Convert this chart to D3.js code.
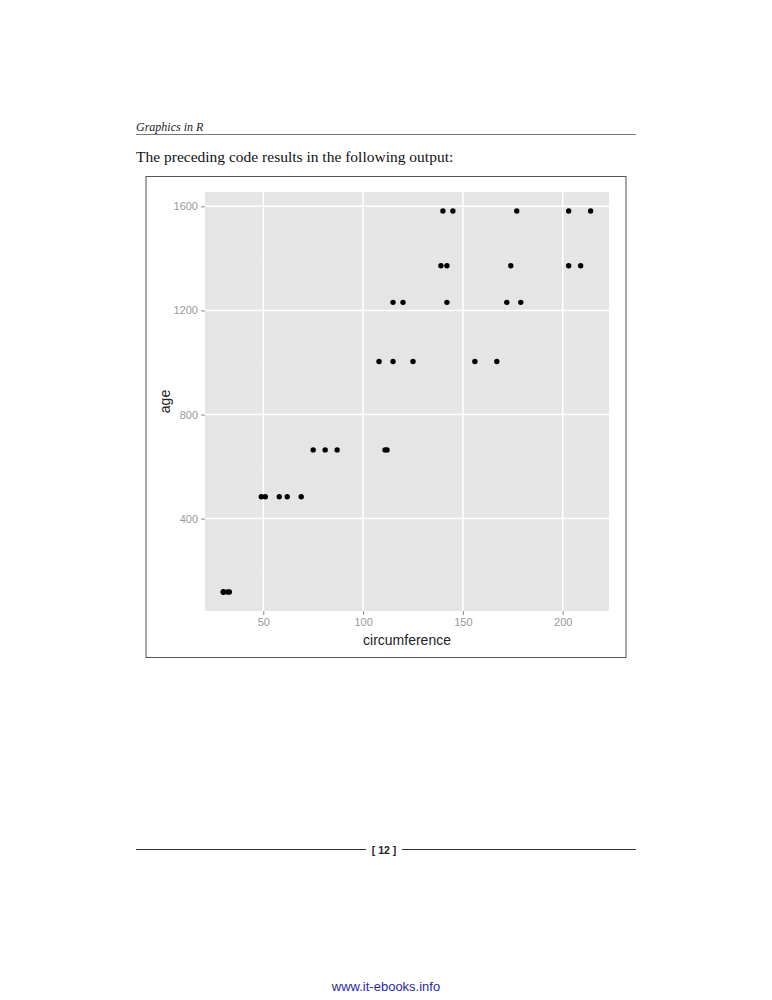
<!DOCTYPE html>
<html>
<head>
<meta charset="utf-8">
<script src="https://cdn.jsdelivr.net/npm/d3@7"></script>
<style>
  body { margin: 0; background: #fff; }
  svg { display: block; }
</style>
</head>
<body>
<svg id="page" width="772" height="1000"></svg>
<script>
// Orange tree data: circumference (mm) against age (days), five trees
var ages = [118, 484, 664, 1004, 1231, 1372, 1582];
var tree1 = [30, 58, 87, 115, 120, 142, 145];
var tree2 = [33, 69, 111, 156, 172, 203, 203];
var tree3 = [30, 51, 75, 108, 115, 139, 140];
var tree4 = [32, 62, 112, 167, 179, 209, 214];
var tree5 = [30, 49, 81, 125, 142, 174, 177];

var xTicks = [50, 100, 150, 200];
var yTicks = [400, 800, 1200, 1600];
var xMinor = [25, 75, 125, 175, 225];
var yMinor = [200, 600, 1000, 1400];

var points = [];
[tree1, tree2, tree3, tree4, tree5].forEach(function(tree) {
    tree.forEach(function(c, i) {
        points.push({circumference: c, age: ages[i]});
    });
});

var svg = d3.select("#page");

// page header
svg.append("text")
    .attr("x", 136).attr("y", 131)
    .style("font-family", "Liberation Serif, serif")
    .style("font-style", "italic")
    .style("font-size", "12px")
    .attr("fill", "#222")
    .text("Graphics in R");
svg.append("line")
    .attr("x1", 136).attr("x2", 636)
    .attr("y1", 134.5).attr("y2", 134.5)
    .attr("stroke", "#777").attr("stroke-width", 1);
svg.append("text")
    .attr("x", 136).attr("y", 162)
    .style("font-family", "Liberation Serif, serif")
    .style("font-size", "15.5px")
    .attr("fill", "#111")
    .text("The preceding code results in the following output:");

// figure frame
svg.append("rect")
    .attr("x", 146).attr("y", 176.5)
    .attr("width", 480).attr("height", 481)
    .attr("fill", "#fff")
    .attr("stroke", "#555").attr("stroke-width", 1);

// panel
var panel = {left: 205, top: 192, right: 609, bottom: 611};

// ggplot style 5% expansion
var xExt = d3.extent(points, function(d) { return d.circumference; });
var yExt = d3.extent(points, function(d) { return d.age; });
var xPad = (xExt[1] - xExt[0]) * 0.05;
var yPad = (yExt[1] - yExt[0]) * 0.05;

var x = d3.scaleLinear()
    .domain([xExt[0] - xPad, xExt[1] + xPad])
    .range([panel.left, panel.right]);
var y = d3.scaleLinear()
    .domain([yExt[0] - yPad, yExt[1] + yPad])
    .range([panel.bottom, panel.top]);

svg.append("rect")
    .attr("x", panel.left).attr("y", panel.top)
    .attr("width", panel.right - panel.left)
    .attr("height", panel.bottom - panel.top)
    .attr("fill", "#e5e5e5");

var grid = svg.append("g");

// minor grid, very faint
grid.selectAll("line.xminor")
    .data(xMinor.filter(function(v) { return x(v) > panel.left && x(v) < panel.right; }))
    .enter().append("line")
    .attr("x1", function(d) { return x(d); })
    .attr("x2", function(d) { return x(d); })
    .attr("y1", panel.top).attr("y2", panel.bottom)
    .attr("stroke", "#ebebeb").attr("stroke-width", 0.6);
grid.selectAll("line.yminor")
    .data(yMinor)
    .enter().append("line")
    .attr("y1", function(d) { return y(d); })
    .attr("y2", function(d) { return y(d); })
    .attr("x1", panel.left).attr("x2", panel.right)
    .attr("stroke", "#ebebeb").attr("stroke-width", 0.6);

// major grid
grid.selectAll("line.xmajor")
    .data(xTicks)
    .enter().append("line")
    .attr("x1", function(d) { return x(d); })
    .attr("x2", function(d) { return x(d); })
    .attr("y1", panel.top).attr("y2", panel.bottom)
    .attr("stroke", "#fff").attr("stroke-width", 1.5);
grid.selectAll("line.ymajor")
    .data(yTicks)
    .enter().append("line")
    .attr("y1", function(d) { return y(d); })
    .attr("y2", function(d) { return y(d); })
    .attr("x1", panel.left).attr("x2", panel.right)
    .attr("stroke", "#fff").attr("stroke-width", 1.5);

// axes
var xAxis = d3.axisBottom(x).tickValues(xTicks).tickFormat(d3.format("d"))
    .tickSize(4).tickPadding(3);
var yAxis = d3.axisLeft(y).tickValues(yTicks).tickFormat(d3.format("d"))
    .tickSize(4).tickPadding(3);

var gx = svg.append("g")
    .attr("transform", "translate(0," + panel.bottom + ")")
    .call(xAxis);
var gy = svg.append("g")
    .attr("transform", "translate(" + panel.left + ",0)")
    .call(yAxis);

[gx, gy].forEach(function(g) {
    g.select(".domain").remove();
    g.selectAll(".tick line").attr("stroke", "#888");
    g.selectAll(".tick text")
        .attr("fill", "#999")
        .style("font-family", "Liberation Sans, Arial, sans-serif")
        .style("font-size", "11px");
});

svg.append("text")
    .attr("x", (panel.left + panel.right) / 2)
    .attr("y", 645)
    .attr("text-anchor", "middle")
    .style("font-family", "Liberation Sans, Arial, sans-serif")
    .style("font-size", "14px")
    .attr("fill", "#222")
    .text("circumference");

svg.append("text")
    .attr("transform", "translate(170," + ((panel.top + panel.bottom) / 2) + ") rotate(-90)")
    .attr("text-anchor", "middle")
    .style("font-family", "Liberation Sans, Arial, sans-serif")
    .style("font-size", "14px")
    .attr("fill", "#222")
    .text("age");

// points
svg.append("g").selectAll("circle")
    .data(points)
    .enter().append("circle")
    .attr("cx", function(d) { return x(d.circumference); })
    .attr("cy", function(d) { return y(d.age); })
    .attr("r", 2.7)
    .attr("fill", "#000");

// page footer
svg.append("line")
    .attr("x1", 136).attr("x2", 366)
    .attr("y1", 849.5).attr("y2", 849.5)
    .attr("stroke", "#333").attr("stroke-width", 1);
svg.append("line")
    .attr("x1", 402).attr("x2", 636)
    .attr("y1", 849.5).attr("y2", 849.5)
    .attr("stroke", "#333").attr("stroke-width", 1);
svg.append("text")
    .attr("x", 384).attr("y", 853.5)
    .attr("text-anchor", "middle")
    .style("font-family", "Liberation Sans, Arial, sans-serif")
    .style("font-size", "10.5px")
    .style("font-weight", "bold")
    .attr("fill", "#222")
    .text("[ 12 ]");
svg.append("text")
    .attr("x", 386).attr("y", 991)
    .attr("text-anchor", "middle")
    .style("font-family", "Liberation Sans, Arial, sans-serif")
    .style("font-size", "13px")
    .attr("fill", "#2b2b9c")
    .text("www.it-ebooks.info");
</script>
</body>
</html>
